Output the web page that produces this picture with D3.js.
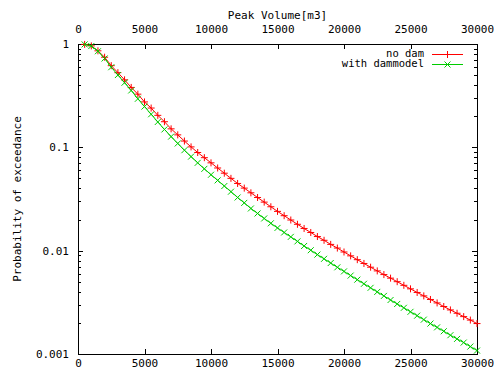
<!DOCTYPE html>
<html>
<head>
<meta charset="utf-8">
<script src="https://cdn.jsdelivr.net/npm/d3@7"></script>
<style>
  body { margin: 0; background: #fff; }
  text { font-family: "DejaVu Sans Mono", "Liberation Mono", monospace; font-size: 11px; fill: #000; }
</style>
</head>
<body>
<svg id="chart" width="495" height="372"></svg>
<script>
// peak volume [m3], one sample every 500
const volume = [500, 1000, 1500, 2000, 2500, 3000, 3500, 4000, 4500, 5000,
  5500, 6000, 6500, 7000, 7500, 8000, 8500, 9000, 9500, 10000,
  10500, 11000, 11500, 12000, 12500, 13000, 13500, 14000, 14500, 15000,
  15500, 16000, 16500, 17000, 17500, 18000, 18500, 19000, 19500, 20000,
  20500, 21000, 21500, 22000, 22500, 23000, 23500, 24000, 24500, 25000,
  25500, 26000, 26500, 27000, 27500, 28000, 28500, 29000, 29500, 30000];

const noDam = [0.991, 0.959, 0.859, 0.745, 0.617, 0.528, 0.450, 0.380, 0.327, 0.275,
  0.240, 0.204, 0.177, 0.151, 0.132, 0.115, 0.101, 0.0891, 0.0794, 0.0708,
  0.0631, 0.0562, 0.0501, 0.0447, 0.0403, 0.0363, 0.0327, 0.0295, 0.0266, 0.0240,
  0.0218, 0.0198, 0.0180, 0.0164, 0.0150, 0.0137, 0.0126, 0.0115, 0.0106, 0.00971,
  0.00891, 0.00818, 0.00752, 0.00692, 0.00637, 0.00587, 0.00542, 0.00501, 0.00462, 0.00427,
  0.00394, 0.00365, 0.00337, 0.00312, 0.00288, 0.00267, 0.00248, 0.00230, 0.00213, 0.00197];

const withDam = [0.991, 0.955, 0.851, 0.724, 0.596, 0.501, 0.422, 0.355, 0.295, 0.248,
  0.209, 0.176, 0.149, 0.127, 0.109, 0.0938, 0.0813, 0.0708, 0.0619, 0.0543,
  0.0479, 0.0422, 0.0372, 0.0327, 0.0290, 0.0256, 0.0229, 0.0205, 0.0184, 0.0166,
  0.0150, 0.0136, 0.0123, 0.0111, 0.0101, 0.00916, 0.00834, 0.00759, 0.00690, 0.00630,
  0.00574, 0.00524, 0.00478, 0.00437, 0.00399, 0.00365, 0.00333, 0.00305, 0.00280, 0.00256,
  0.00235, 0.00215, 0.00197, 0.00181, 0.00166, 0.00152, 0.00140, 0.00129, 0.00118, 0.00108];

const xTicks = [0, 5000, 10000, 15000, 20000, 25000, 30000];
const yTicks = [0.001, 0.01, 0.1, 1];
const yTickLabels = ["0.001", "0.01", "0.1", "1"];
const seriesNames = ["no dam", "with dammodel"];

const pLeft = 78, pRight = 477, pTop = 44, pBottom = 354;

const svg = d3.select("#chart");

const x = d3.scaleLinear()
  .domain([0, 30000])
  .range([pLeft, pRight]);

const y = d3.scaleLog()
  .domain([0.001, 1])
  .range([pBottom, pTop]);

// minor ticks 2..9 of every decade
const yMinor = [];
[0.001, 0.01, 0.1].forEach(function(d) {
  for (let k = 2; k < 10; k++) yMinor.push(d * k);
});

function clean(g) {
  g.select(".domain").remove();
  g.selectAll("line").attr("stroke", "#000").attr("shape-rendering", "crispEdges");
  g.attr("font-family", null).attr("font-size", null);
}

svg.append("g")
  .attr("transform", "translate(0," + pBottom + ")")
  .call(d3.axisBottom(x).tickValues(xTicks).tickSizeInner(-5).tickSizeOuter(0).tickPadding(5).tickFormat(d3.format("d")))
  .call(clean);

svg.append("g")
  .attr("transform", "translate(0," + pTop + ")")
  .call(d3.axisTop(x).tickValues(xTicks).tickSizeInner(-5).tickSizeOuter(0).tickPadding(11).tickFormat(d3.format("d")))
  .call(clean);

svg.append("g")
  .attr("transform", "translate(" + pLeft + ",0)")
  .call(d3.axisLeft(y).tickValues(yTicks).tickSizeInner(-5).tickSizeOuter(0).tickPadding(9)
    .tickFormat(function(d, i) { return yTickLabels[i]; }))
  .call(clean);

svg.append("g")
  .attr("transform", "translate(" + pLeft + ",0)")
  .call(d3.axisLeft(y).tickValues(yMinor).tickSizeInner(-3).tickSizeOuter(0).tickFormat(""))
  .call(clean);

svg.append("g")
  .attr("transform", "translate(" + pRight + ",0)")
  .call(d3.axisRight(y).tickValues(yTicks).tickSizeInner(-5).tickSizeOuter(0).tickFormat(""))
  .call(clean);

svg.append("g")
  .attr("transform", "translate(" + pRight + ",0)")
  .call(d3.axisRight(y).tickValues(yMinor).tickSizeInner(-3).tickSizeOuter(0).tickFormat(""))
  .call(clean);

// frame
svg.append("rect")
  .attr("x", pLeft + 0.5)
  .attr("y", pTop + 0.5)
  .attr("width", pRight - pLeft)
  .attr("height", pBottom - pTop)
  .attr("fill", "none")
  .attr("stroke", "#000");

svg.append("text")
  .attr("x", (pLeft + pRight) / 2)
  .attr("y", 19)
  .attr("text-anchor", "middle")
  .text("Peak Volume[m3]");

svg.append("text")
  .attr("transform", "translate(21," + (pTop + pBottom) / 2 + ") rotate(-90)")
  .attr("text-anchor", "middle")
  .text("Probability of exceedance");

const colors = ["#ff0000", "#00cc00"];
const plus = "M-3.5,0H3.5M0,-3.5V3.5";
const cross = "M-3,-3L3,3M-3,3L3,-3";
const shapes = [plus, cross];

const line = d3.line()
  .x(function(d) { return x(d[0]); })
  .y(function(d) { return y(d[1]); });

[noDam, withDam].forEach(function(vals, s) {
  const pts = volume.map(function(v, i) { return [v, vals[i]]; });
  svg.append("path")
    .datum(pts)
    .attr("d", line)
    .attr("fill", "none")
    .attr("stroke", colors[s])
    .attr("stroke-width", 1);
  svg.append("g")
    .selectAll("path")
    .data(pts).enter()
    .append("path")
    .attr("transform", function(d) { return "translate(" + x(d[0]) + "," + y(d[1]) + ")"; })
    .attr("d", shapes[s])
    .attr("stroke", colors[s])
    .attr("stroke-width", 1);
});

// legend
const legend = svg.append("g");
seriesNames.forEach(function(name, s) {
  const ly = 53 + s * 10.5;
  const lineY = 54.5 + s * 10;
  legend.append("text")
    .attr("x", 424)
    .attr("y", ly)
    .attr("dy", "0.35em")
    .attr("text-anchor", "end")
    .style("font-size", "10.5px")
    .text(name);
  legend.append("line")
    .attr("x1", 432).attr("x2", 463)
    .attr("y1", lineY).attr("y2", lineY)
    .attr("stroke", colors[s]);
  legend.append("path")
    .attr("transform", "translate(447.5," + lineY + ")")
    .attr("d", shapes[s])
    .attr("stroke", colors[s]);
});
</script>
</body>
</html>
